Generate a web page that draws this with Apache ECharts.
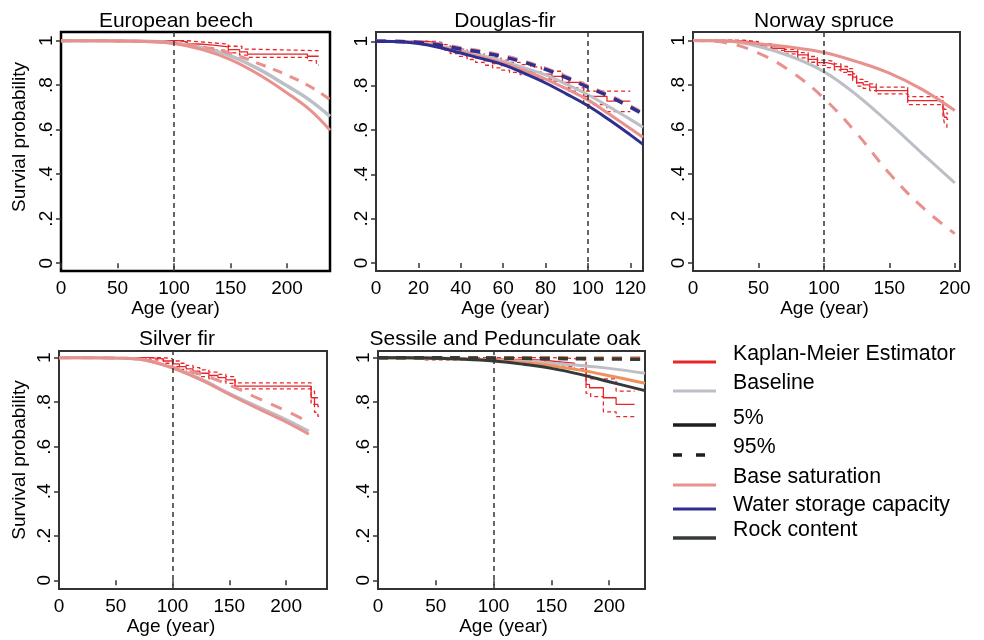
<!DOCTYPE html>
<html><head><meta charset="utf-8">
<script src="https://cdn.jsdelivr.net/npm/echarts@6/dist/echarts.min.js"></script>
<style>html,body{margin:0;padding:0;background:#fff}#c{width:984px;height:640px}</style>
</head><body><div id="c"></div>
<script>
// ---------------- DATA ----------------
const panelTitles = ['European beech', 'Douglas-fir', 'Norway spruce', 'Silver fir', 'Sessile and Pedunculate oak'];
const yTicks = [0, 0.2, 0.4, 0.6, 0.8, 1];
const xTicks200 = [0, 50, 100, 150, 200];
const xTicks120 = [0, 20, 40, 60, 80, 100, 120];
const legendLabels = ['Kaplan-Meier Estimator', 'Baseline', '5%', '95%', 'Base saturation', 'Water storage capacity', 'Rock content'];

// European beech
const ageBeech = [0, 25, 50, 75, 100, 125, 150, 175, 200, 220, 238];
const baseBeech = [1, 1, 0.999, 0.997, 0.99, 0.968, 0.932, 0.872, 0.797, 0.733, 0.66];
const bs5Beech = [1, 1, 0.999, 0.996, 0.987, 0.96, 0.915, 0.848, 0.765, 0.69, 0.598];
const bs95Beech = [1, 1, 0.999, 0.997, 0.99, 0.972, 0.943, 0.897, 0.845, 0.795, 0.735];
const kmBeech = [[0,1],[104,0.995],[112,0.985],[122,0.98],[135,0.972],[148,0.96],[158,0.95],[165,0.94],[218,0.93],[228,0.93]];
const kmBeechUp = [[0,1],[112,0.995],[122,0.99],[135,0.985],[148,0.975],[160,0.962],[168,0.955],[228,0.955]];
const kmBeechLo = [[0,1],[104,0.99],[112,0.975],[122,0.968],[135,0.958],[148,0.945],[158,0.935],[165,0.925],[218,0.91],[226,0.89],[228,0.89]];

// Douglas-fir
const ageDoug = [0, 10, 20, 30, 40, 50, 60, 70, 80, 90, 100, 110, 120, 126];
const baseDoug = [1, 0.999, 0.993, 0.978, 0.959, 0.936, 0.91, 0.88, 0.849, 0.806, 0.759, 0.705, 0.648, 0.612];
const bs5Doug = [1, 0.999, 0.992, 0.975, 0.953, 0.928, 0.902, 0.868, 0.83, 0.785, 0.736, 0.672, 0.607, 0.567];
const bs95Doug = [1, 1, 0.997, 0.988, 0.97, 0.955, 0.935, 0.91, 0.878, 0.84, 0.798, 0.757, 0.708, 0.677];
const wsc5Doug = [1, 0.998, 0.99, 0.972, 0.947, 0.922, 0.895, 0.855, 0.812, 0.762, 0.709, 0.646, 0.578, 0.535];
const wsc95Doug = [1, 0.999, 0.995, 0.983, 0.965, 0.95, 0.93, 0.905, 0.873, 0.835, 0.793, 0.752, 0.703, 0.672];
const kmDoug = [[0,1],[24,0.995],[28,0.985],[31,0.972],[35,0.96],[39,0.948],[43,0.935],[47,0.925],[51,0.912],[55,0.9],[59,0.89],[63,0.882],[68,0.872],[73,0.862],[78,0.852],[83,0.842],[88,0.815],[98,0.752],[109,0.73],[120,0.73]];
const kmDougUp = [[0,1],[28,0.995],[31,0.985],[35,0.975],[39,0.965],[43,0.955],[47,0.945],[51,0.935],[55,0.925],[59,0.915],[63,0.905],[68,0.895],[73,0.885],[78,0.875],[83,0.865],[88,0.84],[91,0.775],[120,0.775]];
const kmDougLo = [[0,1],[24,0.99],[28,0.975],[31,0.96],[35,0.945],[39,0.932],[43,0.918],[47,0.905],[51,0.892],[55,0.88],[59,0.87],[63,0.86],[68,0.85],[73,0.84],[78,0.83],[83,0.82],[88,0.79],[98,0.715],[109,0.683],[120,0.683]];

// Norway spruce
const ageSpruce = [0, 25, 50, 75, 100, 125, 150, 175, 200];
const baseSpruce = [1, 0.997, 0.973, 0.928, 0.86, 0.755, 0.628, 0.493, 0.36];
const bs5Spruce = [1, 0.998, 0.985, 0.97, 0.946, 0.905, 0.853, 0.78, 0.685];
const bs95Spruce = [1, 0.99, 0.943, 0.86, 0.74, 0.583, 0.403, 0.252, 0.132];
const kmSpruce = [[0,1],[30,0.997],[40,0.99],[50,0.978],[60,0.965],[70,0.95],[80,0.935],[88,0.915],[95,0.9],[102,0.892],[108,0.882],[113,0.87],[118,0.86],[122,0.835],[125,0.81],[130,0.8],[135,0.79],[140,0.775],[164,0.73],[191,0.69],[192,0.655],[194,0.645],[195,0.645]];
const kmSpruceUp = [[0,1],[40,0.995],[50,0.985],[60,0.975],[70,0.96],[80,0.945],[88,0.928],[95,0.912],[102,0.905],[108,0.895],[113,0.883],[118,0.873],[122,0.85],[125,0.825],[130,0.815],[135,0.805],[140,0.79],[164,0.748],[191,0.72],[192,0.69],[194,0.67],[195,0.67]];
const kmSpruceLo = [[0,1],[40,0.985],[50,0.97],[60,0.955],[70,0.94],[80,0.922],[88,0.902],[95,0.888],[102,0.878],[108,0.868],[113,0.857],[118,0.846],[122,0.82],[125,0.795],[130,0.785],[135,0.775],[140,0.76],[164,0.712],[191,0.66],[192,0.63],[194,0.61],[195,0.61]];

// Silver fir
const ageFir = [0, 25, 50, 75, 100, 125, 150, 175, 200, 220];
const baseFir = [1, 1, 0.998, 0.99, 0.955, 0.905, 0.84, 0.78, 0.722, 0.67];
const bs5Fir = [1, 1, 0.998, 0.99, 0.953, 0.9, 0.835, 0.772, 0.711, 0.656];
const bs95Fir = [1, 1, 0.998, 0.99, 0.957, 0.925, 0.877, 0.818, 0.761, 0.71];
const kmFir = [[0,1],[80,0.995],[92,0.985],[100,0.972],[106,0.96],[112,0.95],[118,0.94],[124,0.93],[132,0.92],[140,0.91],[147,0.9],[155,0.872],[222,0.82],[225,0.79],[228,0.78],[229,0.78]];
const kmFirUp = [[0,1],[92,0.995],[100,0.985],[106,0.975],[112,0.965],[118,0.955],[124,0.945],[132,0.935],[140,0.925],[147,0.915],[155,0.887],[222,0.85],[225,0.82],[229,0.82]];
const kmFirLo = [[0,1],[80,0.99],[92,0.975],[100,0.96],[106,0.947],[112,0.935],[118,0.925],[124,0.915],[132,0.905],[140,0.895],[147,0.885],[155,0.86],[222,0.79],[225,0.755],[228,0.737],[229,0.737]];

// Sessile and Pedunculate oak
const ageOak = [0, 25, 50, 75, 100, 125, 150, 175, 200, 231];
const baseOak = [1, 1, 0.998, 0.995, 0.99, 0.984, 0.975, 0.965, 0.952, 0.93];
const bs5Oak = [1, 1, 0.998, 0.994, 0.988, 0.978, 0.964, 0.944, 0.919, 0.885];
const bs95Oak = [1, 1, 1, 1, 1, 1, 1, 0.999, 0.999, 0.998];
const rc5Oak = [1, 1, 0.997, 0.993, 0.985, 0.971, 0.952, 0.925, 0.892, 0.852];
const rc95Oak = [1, 1, 1, 0.999, 0.998, 0.997, 0.996, 0.995, 0.994, 0.993];
const kmOak = [[0,1],[38,0.997],[60,0.995],[100,0.99],[140,0.985],[150,0.98],[160,0.975],[170,0.965],[180,0.88],[183,0.865],[195,0.82],[206,0.79],[222,0.79]];
const kmOakUp = [[0,1],[150,0.998],[165,0.99],[180,0.92],[184,0.905],[206,0.85],[222,0.85]];
const kmOakLo = [[0,1],[38,0.99],[100,0.982],[140,0.975],[160,0.96],[170,0.95],[180,0.84],[184,0.825],[195,0.757],[206,0.735],[222,0.735]];

// ---------------- STYLE / LAYOUT ----------------
const FONT = '"Liberation Sans", Arial, Helvetica, sans-serif';
const C = {km:'#e8262a', base:'#bcc0c6', black:'#1e1e1e', bs:'#e8918e', wsc:'#2e2f8f', rock:'#343a38', orange:'#f0905c'};
const layout = [
  {left:61, top:32, w:269, h:239, xmax:238, ymin:-0.035, ymax:1.039, xt:xTicks200, border:'#000', bw:2.5, tx:176, ty:21, ytitle:'Survial probability', yty:137, nameShift:40},
  {left:376, top:32, w:267, h:239, xmax:126, ymin:-0.036, ymax:1.042, xt:xTicks120, border:'#333', bw:2, tx:505, ty:21, nameShift:8},
  {left:693, top:32, w:267, h:239, xmax:204, ymin:-0.036, ymax:1.038, xt:xTicks200, border:'#333', bw:2, tx:824, ty:21, nameShift:4},
  {left:59, top:351, w:268, h:238, xmax:236, ymin:-0.039, ymax:1.03, xt:xTicks200, border:'#333', bw:2, tx:177, ty:339, ytitle:'Survival probability', yty:460, nameShift:44},
  {left:378, top:351, w:267, h:238, xmax:231, ymin:-0.039, ymax:1.03, xt:xTicks200, border:'#333', bw:2, tx:505, ty:339, nameShift:16}
];

const grids = [], xAxes = [], yAxes = [], series = [], graphics = [];
const yFmt = v => (v === 0 ? '0' : v === 1 ? '1' : String(+v.toFixed(1)).replace(/^0\./, '.'));

layout.forEach((L, i) => {
  grids.push({left:L.left, top:L.top, width:L.w, height:L.h, show:true, borderColor:L.border, borderWidth:L.bw, backgroundColor:'transparent'});
  xAxes.push({gridIndex:i, type:'value', min:0, max:L.xmax,
    name:'Age (year)', nameLocation:'middle', nameGap:27,
    nameTextStyle:{fontFamily:FONT, fontSize:19, color:'#000', padding:[0, L.nameShift, 0, 0]},
    axisLine:{show:false}, splitLine:{show:false},
    axisTick:{show:true, length:5, customValues:L.xt, lineStyle:{color:'#333', width:1.5}},
    axisLabel:{customValues:L.xt, fontFamily:FONT, fontSize:19, color:'#000', margin:8}});
  yAxes.push({gridIndex:i, type:'value', min:L.ymin, max:L.ymax,
    axisLine:{show:false}, splitLine:{show:false},
    axisTick:{show:true, length:5, customValues:yTicks, lineStyle:{color:'#333', width:1.5}},
    axisLabel:{customValues:yTicks, rotate:90, formatter:yFmt, fontFamily:FONT, fontSize:19, color:'#000', margin:5}});
  graphics.push({type:'text', x:L.tx, y:L.ty, style:{text:panelTitles[i], font:'21px ' + FONT, fill:'#000', align:'center', verticalAlign:'middle'}});
  if (L.ytitle) graphics.push({type:'text', x:20, y:L.yty, rotation:Math.PI/2, style:{text:L.ytitle, font:'19px ' + FONT, fill:'#000', align:'center', verticalAlign:'middle'}});
});

function curve(g, ages, vals, color, width, dash, z) {
  series.push({type:'line', xAxisIndex:g, yAxisIndex:g, data:ages.map((a, k) => [a, vals[k]]),
    smooth:0.4, symbol:'none', silent:true, z:z || 3,
    lineStyle:{color:color, width:width, type:dash ? dash : 'solid', cap:'butt'}});
}
function km(g, pts, dash, withRef) {
  const s = {type:'line', xAxisIndex:g, yAxisIndex:g, data:pts, step:'end', symbol:'none', silent:true, z:2,
    lineStyle:{color:C.km, width:1.3, type:dash ? [4, 3] : 'solid'}};
  if (withRef) s.markLine = {silent:true, symbol:'none', label:{show:false}, animation:false,
    lineStyle:{color:'#333', width:1.5, type:[5, 4]}, data:[{xAxis:100}]};
  series.push(s);
}

// Panel 0: European beech
km(0, kmBeech, false, true); km(0, kmBeechUp, true); km(0, kmBeechLo, true);
curve(0, ageBeech, baseBeech, C.base, 3.5);
curve(0, ageBeech, bs95Beech, C.bs, 3, [10, 8]);
curve(0, ageBeech, bs5Beech, C.bs, 3);
// Panel 1: Douglas-fir
km(1, kmDoug, false, true); km(1, kmDougUp, true); km(1, kmDougLo, true);
curve(1, ageDoug, baseDoug, C.base, 3);
curve(1, ageDoug, bs95Doug, C.bs, 3.5, [10, 9]);
curve(1, ageDoug, bs5Doug, C.bs, 3);
curve(1, ageDoug, wsc95Doug, C.wsc, 3.5, [10, 9], 4);
curve(1, ageDoug, wsc5Doug, C.wsc, 3, null, 4);
// Panel 2: Norway spruce
km(2, kmSpruce, false, true); km(2, kmSpruceUp, true); km(2, kmSpruceLo, true);
curve(2, ageSpruce, baseSpruce, C.base, 3);
curve(2, ageSpruce, bs95Spruce, C.bs, 3, [12, 10]);
curve(2, ageSpruce, bs5Spruce, C.bs, 3);
// Panel 3: Silver fir
km(3, kmFir, false, true); km(3, kmFirUp, true); km(3, kmFirLo, true);
curve(3, ageFir, baseFir, C.base, 3);
curve(3, ageFir, bs95Fir, C.bs, 3, [12, 10]);
curve(3, ageFir, bs5Fir, C.bs, 3);
// Panel 4: Oak
km(4, kmOak, false, true); km(4, kmOakUp, true); km(4, kmOakLo, true);
curve(4, ageOak, baseOak, C.base, 3);
curve(4, ageOak, bs95Oak, C.orange, 3.5, [10, 8]);
curve(4, ageOak, bs5Oak, C.orange, 3);
curve(4, ageOak, rc95Oak, C.rock, 3.5, [10, 8], 4);
curve(4, ageOak, rc5Oak, C.rock, 3, null, 4);

// Legend (drawn as graphic)
const legStyle = [
  {c:C.km, w:3}, {c:C.base, w:3}, {c:C.black, w:3.5}, {c:C.black, w:3.5, dash:[9, 14]},
  {c:C.bs, w:3}, {c:C.wsc, w:3}, {c:C.rock, w:3.5}
];
const legTextY = [354, 383, 418, 447, 477, 505, 530];
const legLineY = [362, 391, 425, 455, 485, 509, 538];
legendLabels.forEach((t, i) => {
  graphics.push({type:'line', shape:{x1:673, y1:legLineY[i], x2:716, y2:legLineY[i]},
    style:{stroke:legStyle[i].c, lineWidth:legStyle[i].w, lineDash:legStyle[i].dash || null}});
  graphics.push({type:'text', x:733, y:legTextY[i], style:{text:t, font:'21.3px ' + FONT, fill:'#000', align:'left', verticalAlign:'middle'}});
});

const chart = echarts.init(document.getElementById('c'), null, {renderer:'canvas'});
chart.setOption({animation:false, backgroundColor:'#fff', grid:grids, xAxis:xAxes, yAxis:yAxes, series:series, graphic:graphics});
</script></body></html>
